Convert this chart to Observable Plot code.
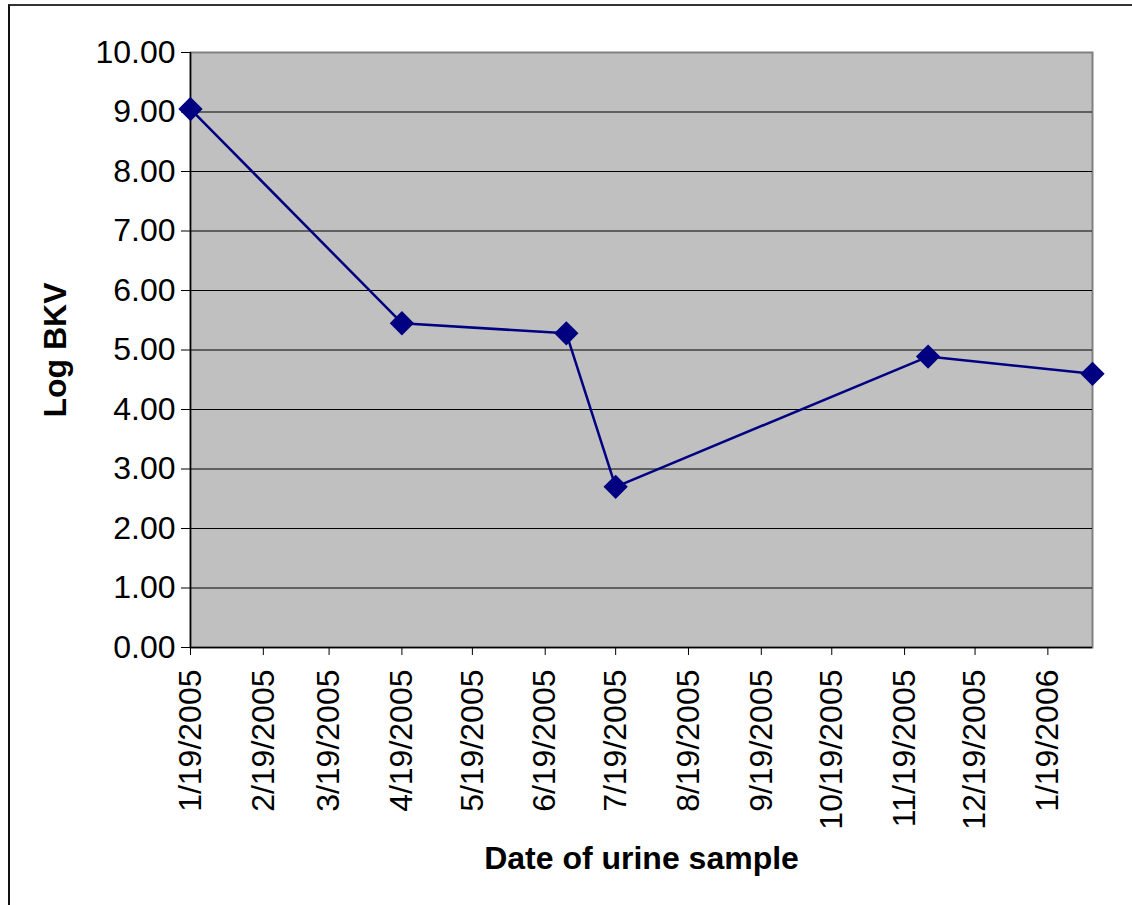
<!DOCTYPE html>
<html>
<head>
<meta charset="utf-8">
<script src="https://cdn.jsdelivr.net/npm/d3@7"></script>
<script src="https://cdn.jsdelivr.net/npm/@observablehq/plot@0.6"></script>
<style>
  html, body { margin: 0; padding: 0; background: #fff; overflow: hidden; }
  #wrap { position: relative; width: 1132px; height: 905px; }
  #border { position: absolute; left: 8px; top: 4px; width: 2000px; height: 2000px;
            border-left: 2px solid #111; border-top: 2px solid #333; pointer-events: none; }
  #chart { position: absolute; left: 0; top: 0; }
</style>
</head>
<body>
<div id="wrap"><div id="chart"></div><div id="border"></div></div>
<script>
// Data
const sampleDates = ["2005-01-19", "2005-04-19", "2005-06-28", "2005-07-19", "2005-11-29", "2006-02-07"];
const logBKV = [9.05, 5.45, 5.28, 2.70, 4.89, 4.60];
const xTickLabels = ["1/19/2005", "2/19/2005", "3/19/2005", "4/19/2005", "5/19/2005", "6/19/2005",
  "7/19/2005", "8/19/2005", "9/19/2005", "10/19/2005", "11/19/2005", "12/19/2005", "1/19/2006"];
const yTicks = [0, 1, 2, 3, 4, 5, 6, 7, 8, 9, 10];
const xTitle = "Date of urine sample";
const yTitle = "Log BKV";

const parseMDY = s => { const [m, d, y] = s.split("/").map(Number); return new Date(Date.UTC(y, m - 1, d)); };
const fmtMDY = d => `${d.getUTCMonth() + 1}/${d.getUTCDate()}/${d.getUTCFullYear()}`;

const data = sampleDates.map((s, i) => ({ date: new Date(s + "T00:00:00Z"), value: logBKV[i] }));
const xTicks = xTickLabels.map(parseMDY);
const xDomain = [data[0].date, data[data.length - 1].date];

const navy = "#000080";

const chart = Plot.plot({
  width: 1132,
  height: 905,
  marginLeft: 190,
  marginTop: 52,
  marginRight: 40,
  marginBottom: 258,
  style: { fontFamily: "'Liberation Sans', Arial, sans-serif", fontSize: "32px", background: "transparent", color: "#000" },
  x: { type: "utc", domain: xDomain },
  y: { domain: [0, 10] },
  marks: [
    Plot.frame({ fill: "#c0c0c0", stroke: "#808080", strokeWidth: 2 }),
    Plot.ruleY(yTicks.filter(d => d > 0 && d < 10), { stroke: "#000", strokeWidth: 1 }),
    Plot.ruleY([0], { stroke: "#000", strokeWidth: 1.5 }),
    Plot.ruleX([xDomain[0]], { stroke: "#000", strokeWidth: 1.5 }),
    Plot.axisY({ ticks: yTicks, tickFormat: d => d.toFixed(2), tickSize: 9, tickPadding: 6, label: null, fontSize: 32, stroke: "#000" }),
    Plot.axisX({ ticks: xTicks, tickFormat: fmtMDY, tickRotate: -90, tickSize: 8, tickPadding: 14, label: null, fontSize: 32 }),
    Plot.line(data, { x: "date", y: "value", stroke: navy, strokeWidth: 2.5 }),
    Plot.dot(data, { x: "date", y: "value", symbol: "diamond2", r: 10, fill: navy, stroke: navy }),
    Plot.text([yTitle], { frameAnchor: "left", textAnchor: "middle", lineAnchor: "middle", dx: -135, rotate: -90, fontSize: 32, fontWeight: "bold", fill: "#000" }),
    Plot.text([xTitle], { frameAnchor: "bottom", textAnchor: "middle", lineAnchor: "middle", dy: 211, fontSize: 32, fontWeight: "bold", fill: "#000" })
  ]
});
document.getElementById("chart").appendChild(chart);
</script>
</body>
</html>
